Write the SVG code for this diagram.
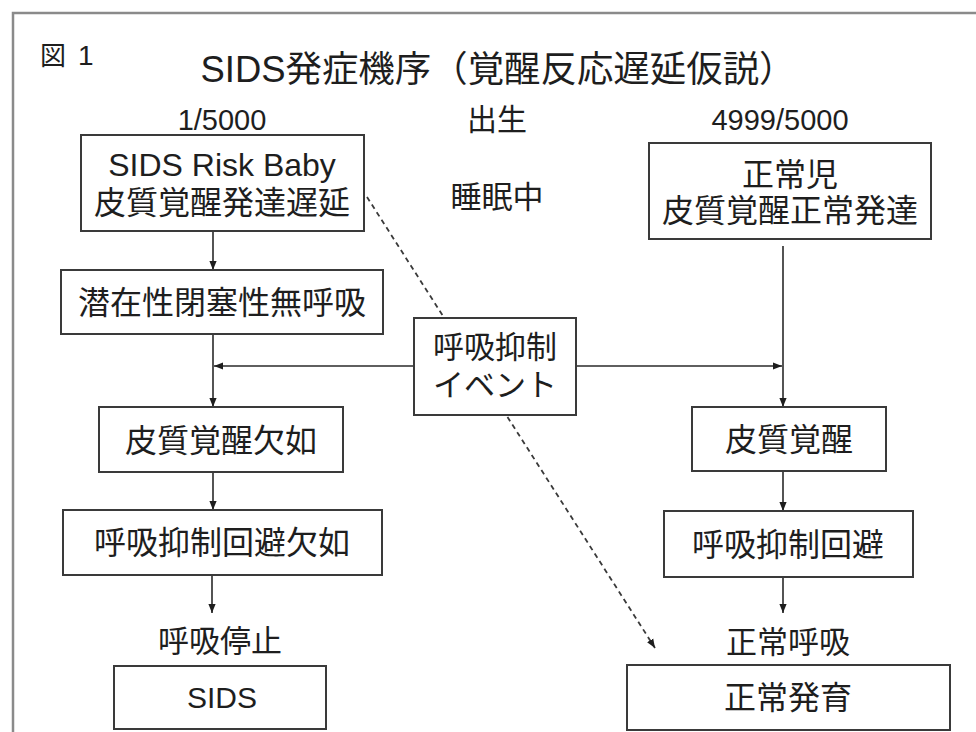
<svg xmlns="http://www.w3.org/2000/svg" width="976" height="732" viewBox="0 0 976 732">
<style>
text{font-family:"Liberation Sans","Noto Sans CJK JP",sans-serif;fill:#1e1e1e;text-anchor:middle}
.t{font-size:32px}
.box{fill:#fff;stroke:#3a3a3a;stroke-width:2}
.ln{fill:none;stroke:#2a2a2a;stroke-width:1.6}
.dash{fill:none;stroke:#3a3a3a;stroke-width:1.8;stroke-dasharray:5 4}
</style>
<defs>
<marker id="ah" viewBox="0 0 10 10" refX="10" refY="5" markerWidth="9" markerHeight="9" markerUnits="userSpaceOnUse" orient="auto"><path d="M0,1 L10,5 L0,9 z" fill="#1e1e1e"/></marker>
</defs>
<rect x="0" y="0" width="976" height="732" fill="#fff"/>
<rect x="13" y="13" width="1000" height="800" fill="none" stroke="#8a8a8a" stroke-width="2.5"/>
<g id="header">
<text x="40" y="65" style="font-size:26px;text-anchor:start">図</text>
<text x="78" y="65" style="font-size:28px;text-anchor:start">1</text>
<text x="498" y="82" style="font-size:36px" textLength="595" lengthAdjust="spacingAndGlyphs">SIDS発症機序（覚醒反応遅延仮説）</text>
<text x="222" y="130" style="font-size:29px">1/5000</text>
<text x="497" y="130" style="font-size:30px">出生</text>
<text x="780" y="130" style="font-size:29px">4999/5000</text>
<text x="497" y="208" style="font-size:31px">睡眠中</text>
</g>
<g id="connectors">
<path class="dash" d="M367,197 L655,648" marker-end="url(#ah)"/>
<line class="ln" x1="213" y1="231" x2="213" y2="270" marker-end="url(#ah)"/>
<line class="ln" x1="213" y1="334" x2="213" y2="407" marker-end="url(#ah)"/>
<line class="ln" x1="414" y1="366" x2="214" y2="366" marker-end="url(#ah)"/>
<line class="ln" x1="576" y1="366" x2="782" y2="366" marker-end="url(#ah)"/>
<line class="ln" x1="783" y1="246" x2="783" y2="407" marker-end="url(#ah)"/>
<line class="ln" x1="213" y1="472" x2="213" y2="510" marker-end="url(#ah)"/>
<line class="ln" x1="212" y1="575" x2="212" y2="613" marker-end="url(#ah)"/>
<line class="ln" x1="783" y1="471" x2="783" y2="511" marker-end="url(#ah)"/>
<line class="ln" x1="783" y1="577" x2="783" y2="613" marker-end="url(#ah)"/>
</g>
<g id="n-risk">
<rect class="box" x="81" y="135" width="283" height="96"/>
<text class="t" x="222" y="176">SIDS Risk Baby</text>
<text class="t" x="222" y="214">皮質覚醒発達遅延</text>
</g>
<g id="n-normal">
<rect class="box" x="649" y="143" width="282" height="96"/>
<text class="t" x="790" y="186">正常児</text>
<text class="t" x="790" y="222">皮質覚醒正常発達</text>
</g>
<g id="n-apnea">
<rect class="box" x="61" y="270" width="322" height="64"/>
<text class="t" x="222" y="314">潜在性閉塞性無呼吸</text>
</g>
<g id="n-event">
<rect class="box" x="414" y="318" width="162" height="97"/>
<text x="495" y="358" style="font-size:31px">呼吸抑制</text>
<text x="495" y="396" style="font-size:31px">イベント</text>
</g>
<g id="n-noarousal">
<rect class="box" x="99" y="407" width="244" height="65"/>
<text class="t" x="221" y="452">皮質覚醒欠如</text>
</g>
<g id="n-arousal">
<rect class="box" x="692" y="407" width="194" height="64"/>
<text class="t" x="789" y="451">皮質覚醒</text>
</g>
<g id="n-noavoid">
<rect class="box" x="63" y="510" width="319" height="65"/>
<text class="t" x="222" y="554">呼吸抑制回避欠如</text>
</g>
<g id="n-avoid">
<rect class="box" x="664" y="511" width="249" height="66"/>
<text class="t" x="788" y="556">呼吸抑制回避</text>
</g>
<g id="l-stop"><text x="220" y="652" style="font-size:31px">呼吸停止</text></g>
<g id="l-normalbreath"><text x="788" y="653" style="font-size:31px">正常呼吸</text></g>
<g id="n-sids">
<rect class="box" x="114" y="666" width="212" height="63"/>
<text x="222" y="708" style="font-size:30px">SIDS</text>
</g>
<g id="n-growth">
<rect class="box" x="627" y="665" width="323" height="65"/>
<text class="t" x="788" y="709">正常発育</text>
</g>
</svg>
